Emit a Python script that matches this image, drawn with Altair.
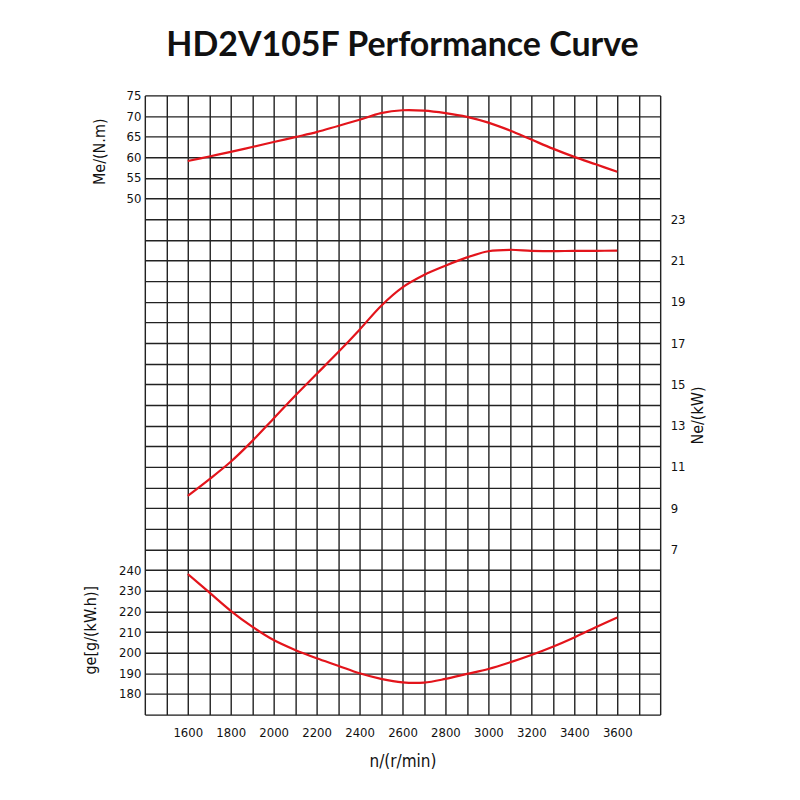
import altair as alt
import pandas as pd

# Engine speed (r/min)
rpm = [1600, 1700, 1800, 1900, 2000, 2100, 2200, 2300, 2400, 2500, 2600,
       2700, 2800, 2900, 3000, 3100, 3200, 3300, 3400, 3500, 3600]

# Torque Me (N.m)
torque = [59.1, 60.2, 61.3, 62.5, 63.7, 64.9, 66.1, 67.6, 69.1, 70.7, 71.4,
          71.3, 70.7, 69.8, 68.4, 66.5, 64.3, 62.1, 60.1, 58.3, 56.5]

# Power Ne (kW)
power = [9.6, 10.4, 11.25, 12.25, 13.35, 14.45, 15.5, 16.55, 17.65, 18.8, 19.7,
         20.3, 20.75, 21.15, 21.45, 21.52, 21.47, 21.45, 21.47, 21.47, 21.48]

# Fuel consumption ge (g/(kW.h))
fuel = [238.1, 229.2, 220.3, 212.6, 206.1, 201.3, 197.3, 193.7, 190.0, 187.3, 185.6,
        185.5, 187.3, 189.7, 192.1, 195.3, 198.9, 202.9, 207.4, 212.3, 217.1]

df = pd.DataFrame({'rpm': rpm, 'Me': torque, 'Ne': power, 'ge': fuel})

label_font = 'Liberation Sans Narrow, DejaVu Sans Condensed, Roboto, sans-serif'
red = '#e3141b'

x_enc = alt.X(
    'rpm:Q',
    scale=alt.Scale(domain=[1400, 3800], nice=False),
    axis=alt.Axis(
        values=list(range(1400, 3801, 100)),
        labelExpr="(datum.value % 200 == 0 && datum.value >= 1600 && datum.value <= 3600) ? datum.value : ''",
        grid=True, ticks=False, domain=False,
        labelPadding=12, labelFontSize=13, labelFont=label_font, labelColor='#111',
        title='n/(r/min)', titleFontSize=17, titleFont=label_font,
        titleFontWeight='normal', titlePadding=14, titleColor='#111',
        gridColor='#222', gridWidth=1.4, gridOpacity=1,
    ),
)

# Me: torque curve, labels on left upper part
me = alt.Chart(df).mark_line(color=red, strokeWidth=2.2, interpolate='catmull-rom').encode(
    x=x_enc,
    y=alt.Y('Me:Q', scale=alt.Scale(domain=[-75, 75], nice=False, zero=False),
            axis=alt.Axis(orient='left', values=[50, 55, 60, 65, 70, 75],
                          grid=False, ticks=False, domain=False,
                          labelPadding=4, labelFontSize=13, labelFont=label_font, labelColor='#111',
                          title='Me/(N.m)', titleFontSize=16, titleFont=label_font,
                          titleFontWeight='normal', titleColor='#111',
                          titleX=-37, titleY=56, titleAngle=270)),
)

# Ne: power curve, right axis, carries the horizontal grid
ne = alt.Chart(df).mark_line(color=red, strokeWidth=2.2, interpolate='catmull-rom').encode(
    x=x_enc,
    y=alt.Y('Ne:Q', scale=alt.Scale(domain=[-1, 29], nice=False, zero=False),
            axis=alt.Axis(orient='right', values=list(range(-1, 30)),
                          labelExpr="(datum.value >= 7 && datum.value <= 23 && datum.value % 2 == 1) ? datum.value : ''",
                          grid=True, gridColor='#222', gridWidth=1.4, gridOpacity=1,
                          ticks=False, domain=False,
                          labelPadding=10, labelFontSize=13, labelFont=label_font, labelColor='#111',
                          title='Ne/(kW)', titleFontSize=16, titleFont=label_font,
                          titleFontWeight='normal', titleColor='#111',
                          titleAngle=270, titleX=45, titleY=320)),
)

# ge: fuel consumption, labels on left lower part
ge = alt.Chart(df).mark_line(color=red, strokeWidth=2.2, interpolate='catmull-rom').encode(
    x=x_enc,
    y=alt.Y('ge:Q', scale=alt.Scale(domain=[170, 470], nice=False, zero=False),
            axis=alt.Axis(orient='left', values=[180, 190, 200, 210, 220, 230, 240],
                          grid=False, ticks=False, domain=False,
                          labelPadding=4, labelFontSize=13, labelFont=label_font, labelColor='#111',
                          title='ge[g/(kW.h)]', titleFontSize=16, titleFont=label_font,
                          titleFontWeight='normal', titleColor='#111',
                          titleX=-46, titleY=535, titleAngle=270)),
)

chart = (
    alt.layer(ne, me, ge)
    .resolve_scale(y='independent')
    .properties(
        width=516, height=620,
        autosize=alt.AutoSizeParams(type='none'),
        padding={'left': 137, 'top': 87, 'right': 132, 'bottom': 77},
        title=alt.Title('HD2V105F Performance Curve', fontSize=34, font='Lato',
                        fontWeight='bold', color='#111', offset=26, anchor='middle'),
    )
    .configure_view(stroke='#111', strokeWidth=2)
    .configure(background='white')
)

chart.save("out.html", embed_options={"renderer": "svg", "actions": False})
